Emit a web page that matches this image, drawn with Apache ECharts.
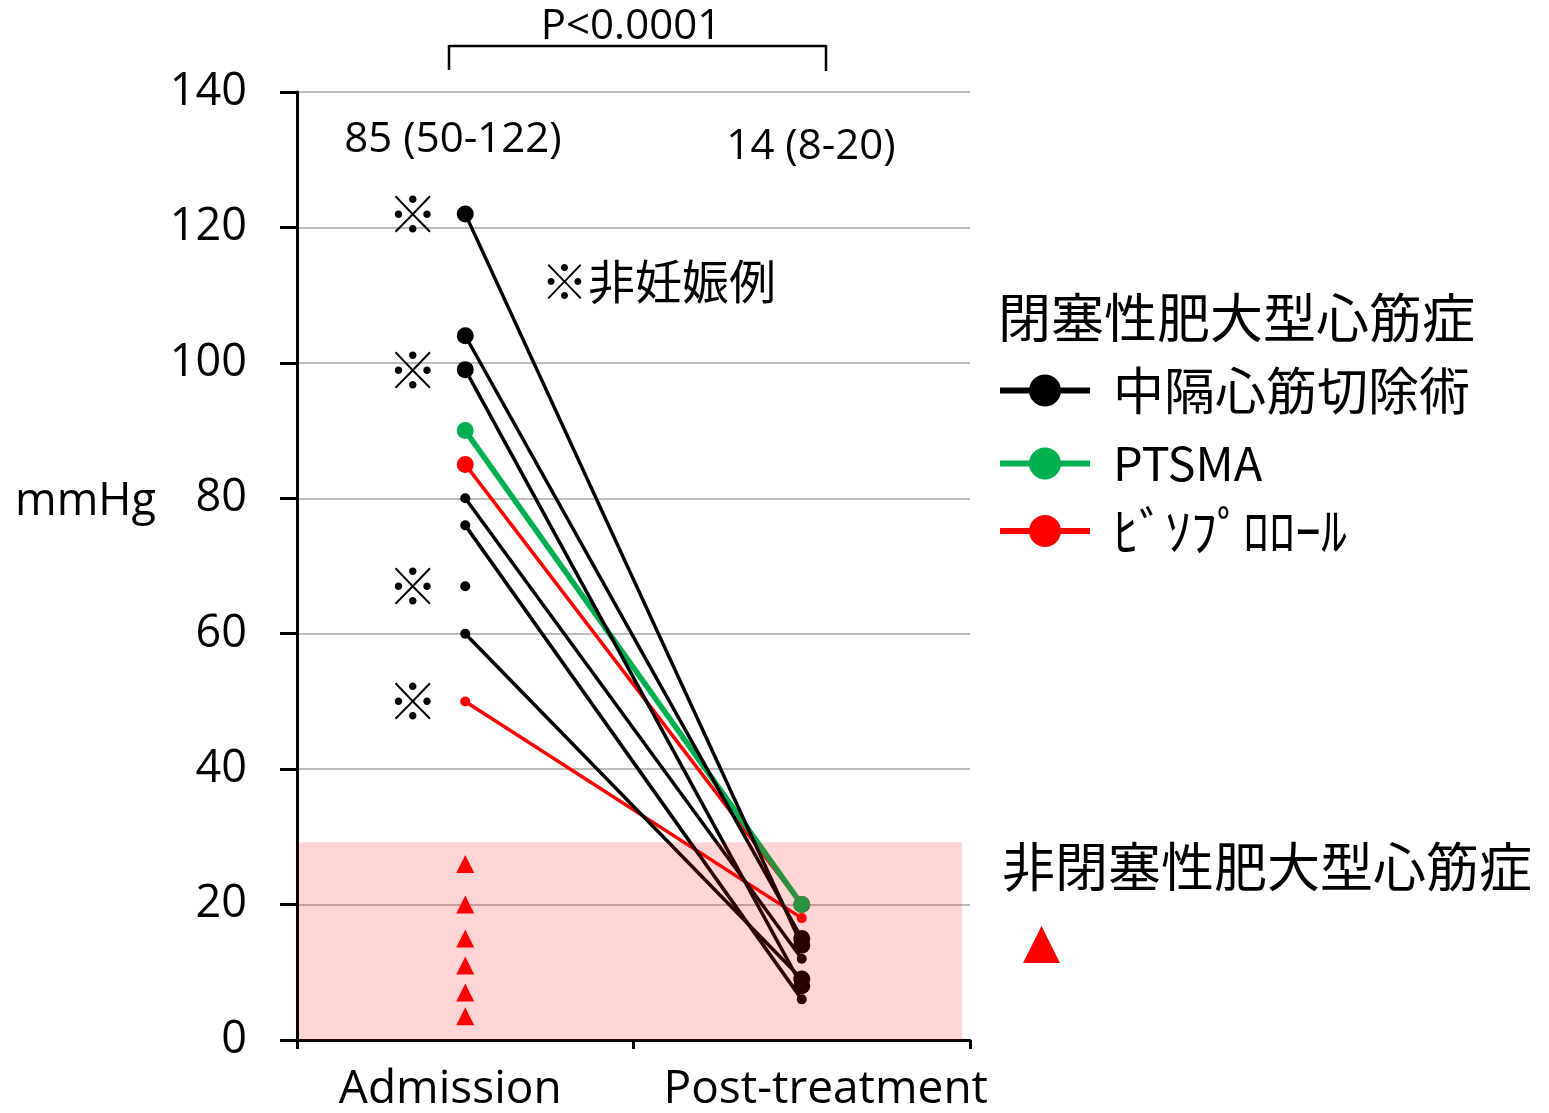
<!DOCTYPE html>
<html><head><meta charset="utf-8">
<script src="https://cdn.jsdelivr.net/npm/echarts@6/dist/echarts.min.js"></script>
<style>html,body{margin:0;padding:0;background:#fff}#c{width:1549px;height:1113px}</style>
</head><body><div id="c"></div>
<script>
// ---- data ----
const categories = ['Admission', 'Post-treatment'];
const yTicks = { min: 0, max: 140, interval: 20 };
// 閉塞性肥大型心筋症: paired values (admission -> post-treatment)
const myectomyAdmission = [122, 104, 99, 80, 76, 60];
const myectomyPost      = [14, 15, 8, 12, 6, 9];
const ptsmaAdmission = [90];
const ptsmaPost      = [20];
const bisoAdmission = [85, 50];
const bisoPost      = [20, 18];
const unpairedAdmission = [67];
// 非閉塞性肥大型心筋症 (admission)
const nonObstructive = [26, 20, 15, 11, 7, 3.5];
// ※非妊娠例 marks (admission)
const nonPregnant = [122, 99, 67, 50];
const bandRange = [0, 29.2];
const summaryAdmission = '85 (50-122)';
const summaryPost = '14 (8-20)';
const pText = 'P<0.0001';

// ---- style ----
const BIG = 17, SMALL = 10;
const myectomySizes = [[BIG, BIG], [BIG, BIG], [BIG, BIG], [SMALL, SMALL], [SMALL, SMALL], [SMALL, BIG]];
const ptsmaSizes = [[BIG, BIG]];
const bisoSizes = [[BIG, BIG], [SMALL, SMALL]];
const LAT = '"Open Sans", "Liberation Sans", sans-serif';
const JP = '"Noto Sans CJK JP", "Noto Sans", sans-serif';

function pairSeries(name, adm, post, sizes, color, width) {
  return adm.map((a, i) => ({
    name: name, type: 'line', xAxisIndex: 0, yAxisIndex: 0,
    data: [a, post[i]],
    symbol: 'circle',
    symbolSize: (v, p) => sizes[i][p.dataIndex],
    lineStyle: { color: color, width: width },
    itemStyle: { color: color, opacity: 1 },
    emphasis: { disabled: true }, silent: true, animation: false
  }));
}

const series = [].concat(
  pairSeries('ﾋﾞｿﾌﾟﾛﾛｰﾙ', bisoAdmission, bisoPost, bisoSizes, '#ff0000', 3.5),
  pairSeries('PTSMA', ptsmaAdmission, ptsmaPost, ptsmaSizes, '#00b050', 5.5),
  pairSeries('中隔心筋切除術', myectomyAdmission, myectomyPost, myectomySizes, '#000000', 3.5),
  [{
    name: 'unpaired', type: 'scatter', data: unpairedAdmission.map(v => [categories[0], v]),
    symbolSize: SMALL, itemStyle: { color: '#000', opacity: 1 }, silent: true, animation: false
  }, {
    name: '非閉塞性肥大型心筋症', type: 'scatter', data: nonObstructive.map(v => [categories[0], v]),
    symbol: 'triangle', symbolSize: 18, itemStyle: { color: '#ff0000', opacity: 1 }, silent: true, animation: false
  }, {
    name: 'mark', type: 'scatter', data: nonPregnant.map(v => [categories[0], v]),
    symbolSize: 1, itemStyle: { color: 'rgba(0,0,0,0)', opacity: 1 }, silent: true, animation: false,
    label: { show: true, formatter: '※', position: 'left', distance: 27, fontSize: 50, fontWeight: 'bold', fontFamily: JP, color: '#000', opacity: 1 }
  }, {
    name: 'band', type: 'line', xAxisIndex: 1, yAxisIndex: 0, data: [], z: 20, silent: true, animation: false,
    markArea: {
      silent: true, z: 20,
      itemStyle: { color: 'rgba(255,0,0,0.165)' },
      data: [[{ xAxis: 0.003, yAxis: bandRange[0] }, { xAxis: 0.988, yAxis: bandRange[1] }]]
    }
  }]
);

const chart = echarts.init(document.getElementById('c'), null, { renderer: 'canvas' });
chart.setOption({
  animation: false,
  backgroundColor: '#fff',
  grid: { left: 297, right: 579, top: 92, bottom: 72, containLabel: false },
  xAxis: [{
    type: 'category', data: categories, boundaryGap: true,
    axisLine: { lineStyle: { color: '#000', width: 3 } },
    axisTick: { show: true, length: 9, lineStyle: { color: '#000', width: 3 } },
    axisLabel: {
      interval: 0, hideOverlap: false, margin: 27,
      formatter: (v) => v === categories[0] ? '{a|' + v + '}' : '{b|' + v + '}',
      rich: {
        a: { fontSize: 46, fontFamily: LAT, color: '#000', padding: [0, 30, 0, 0] },
        b: { fontSize: 46, fontFamily: LAT, color: '#000', padding: [0, 0, 0, 48] }
      }
    },
    splitLine: { show: false }
  }, {
    type: 'value', min: 0, max: 1, show: false
  }],
  yAxis: {
    type: 'value', min: yTicks.min, max: yTicks.max, interval: yTicks.interval,
    axisLine: { show: true, lineStyle: { color: '#000', width: 3 } },
    axisTick: { show: true, length: 17, lineStyle: { color: '#000', width: 3 } },
    axisLabel: { fontSize: 45, fontFamily: LAT, color: '#000', margin: 50 },
    splitLine: { show: true, lineStyle: { color: '#a6a6a6', width: 1.5 } }
  },
  legend: [
    { left: 997, top: 365, padding: 0, itemWidth: 90, itemHeight: 40, selectedMode: false, data: ['中隔心筋切除術'],
      lineStyle: { width: 6 }, textStyle: { fontSize: 51, fontFamily: JP, color: '#000', padding: [0, 0, 0, 18] } },
    { left: 997, top: 440, padding: 0, itemWidth: 90, itemHeight: 40, selectedMode: false, data: ['PTSMA'],
      lineStyle: { width: 6 }, textStyle: { fontSize: 47, fontFamily: JP, color: '#000', padding: [0, 0, 0, 18] } },
    { left: 997, top: 505, padding: 0, itemWidth: 90, itemHeight: 40, selectedMode: false, data: ['ﾋﾞｿﾌﾟﾛﾛｰﾙ'],
      lineStyle: { width: 6 }, textStyle: { fontSize: 52, fontFamily: JP, color: '#000', padding: [0, 0, 0, 18] } },
    { left: 1023, top: 926, padding: 0, itemWidth: 37, itemHeight: 37, selectedMode: false, data: ['非閉塞性肥大型心筋症'],
      formatter: () => '', textStyle: { fontSize: 10 } }
  ],
  graphic: [
    { type: 'line', shape: { x1: 449, y1: 46, x2: 826, y2: 46 }, style: { stroke: '#000', lineWidth: 2.5 }, silent: true },
    { type: 'line', shape: { x1: 449, y1: 45, x2: 449, y2: 70 }, style: { stroke: '#000', lineWidth: 2.5 }, silent: true },
    { type: 'line', shape: { x1: 826, y1: 45, x2: 826, y2: 71 }, style: { stroke: '#000', lineWidth: 2.5 }, silent: true },
    { type: 'text', x: 631, y: 27, style: { text: pText, font: '42px ' + LAT, fill: '#000', textAlign: 'center', textVerticalAlign: 'middle' } },
    { type: 'text', x: 453, y: 140, style: { text: summaryAdmission, font: '42px ' + LAT, fill: '#000', textAlign: 'center', textVerticalAlign: 'middle' } },
    { type: 'text', x: 811, y: 147, style: { text: summaryPost, font: '42px ' + LAT, fill: '#000', textAlign: 'center', textVerticalAlign: 'middle' } },
    { type: 'text', x: 15, y: 502, style: { text: 'mmHg', font: '45px ' + LAT, fill: '#000', textAlign: 'left', textVerticalAlign: 'middle' } },
    { type: 'text', x: 541, y: 281, style: { text: '※非妊娠例', font: '47px ' + JP, fill: '#000', textAlign: 'left', textVerticalAlign: 'middle' } },
    { type: 'text', x: 998, y: 318, style: { text: '閉塞性肥大型心筋症', font: '53px ' + JP, fill: '#000', textAlign: 'left', textVerticalAlign: 'middle' } },
    { type: 'text', x: 1002, y: 867, style: { text: '非閉塞性肥大型心筋症', font: '53px ' + JP, fill: '#000', textAlign: 'left', textVerticalAlign: 'middle' } }
  ],
  series: series
});
</script></body></html>
